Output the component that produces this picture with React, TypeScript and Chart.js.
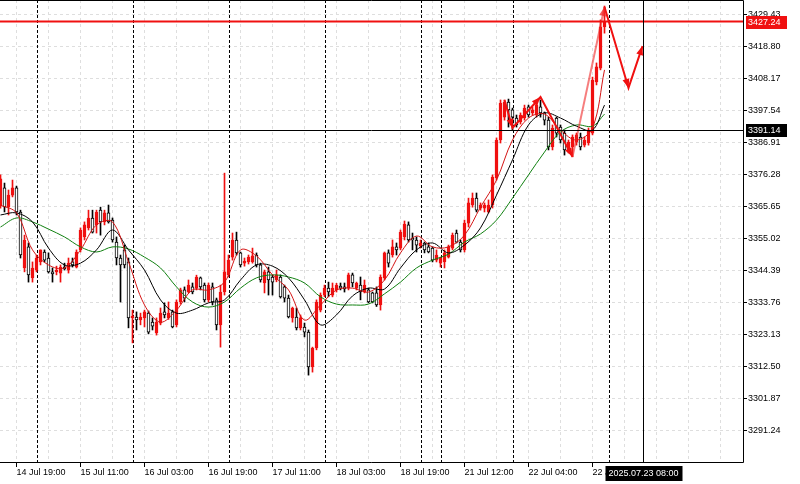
import React, { useEffect, useRef } from "react";
import { Chart, registerables } from "chart.js";

Chart.register(...registerables);

// ---- Candles (H1), bar index 0 = 14 Jul 15:00 ----
const opens = [
  3366.0, 3372.0, 3365.7, 3369.6, 3372.0, 3364.0, 3345.4, 3352.4, 3342.1, 3344.7,
  3347.4, 3350.7, 3348.7, 3344.1, 3344.1, 3343.7, 3345.7, 3344.7, 3347.4, 3345.7,
  3351.4, 3355.7, 3358.7, 3362.0, 3359.7, 3364.6, 3360.7, 3363.7, 3361.3, 3354.0,
  3348.7, 3351.4, 3347.4, 3328.8, 3329.1, 3328.1, 3328.8, 3330.4, 3327.4, 3323.8,
  3327.1, 3330.8, 3328.8, 3330.8, 3326.5, 3334.1, 3338.1, 3337.4, 3339.1, 3338.7,
  3342.1, 3339.7, 3334.8, 3339.1, 3334.8, 3326.5, 3337.4, 3343.1, 3349.0, 3354.7,
  3350.4, 3347.0, 3347.4, 3347.4, 3349.7, 3346.4, 3340.4, 3344.1, 3342.4, 3341.4,
  3342.4, 3339.1, 3335.4, 3328.8, 3329.1, 3325.5, 3325.8, 3324.1, 3312.5, 3318.8,
  3331.4, 3336.4, 3338.7, 3336.4, 3338.1, 3339.4, 3339.1, 3338.7, 3343.1, 3338.7,
  3339.7, 3337.4, 3338.1, 3337.1, 3337.1, 3333.1, 3342.1, 3350.4, 3349.7, 3352.4,
  3352.0, 3355.7, 3359.7, 3355.3, 3354.7, 3352.7, 3353.7, 3352.4, 3352.0, 3348.0,
  3347.0, 3347.4, 3349.0, 3352.0, 3357.0, 3354.0, 3351.4, 3360.3, 3366.3, 3368.6,
  3365.3, 3365.3, 3364.0, 3366.3, 3375.3, 3387.9, 3395.5, 3400.5, 3397.9, 3395.2,
  3393.9, 3395.2, 3398.9, 3396.9, 3396.2, 3398.9, 3396.9, 3394.5, 3385.6, 3395.2,
  3392.2, 3390.2, 3384.6, 3385.6, 3387.2, 3388.9, 3386.2, 3386.9, 3390.2, 3407.2,
  3411.8, 3425.5,
];
const highs = [
  3376.3, 3373.6, 3371.3, 3374.6, 3372.6, 3364.6, 3356.3, 3353.7, 3347.4, 3349.7,
  3351.4, 3351.4, 3350.4, 3345.4, 3346.0, 3346.4, 3347.0, 3348.7, 3348.7, 3351.4,
  3358.7, 3360.7, 3364.6, 3364.6, 3364.6, 3365.6, 3364.6, 3366.3, 3362.0, 3355.7,
  3349.7, 3353.0, 3348.7, 3331.4, 3330.8, 3330.4, 3331.4, 3331.1, 3328.8, 3328.8,
  3332.1, 3333.8, 3334.1, 3331.4, 3334.8, 3338.7, 3339.1, 3341.4, 3340.4, 3343.0,
  3342.4, 3340.4, 3340.4, 3340.4, 3335.4, 3339.7, 3376.9, 3349.7, 3357.0, 3357.3,
  3350.7, 3348.7, 3349.7, 3352.0, 3350.4, 3347.0, 3344.7, 3345.7, 3343.1, 3344.7,
  3343.1, 3339.7, 3336.4, 3332.4, 3332.1, 3329.8, 3327.1, 3324.8, 3319.1, 3334.8,
  3337.1, 3339.7, 3340.7, 3340.4, 3340.3, 3340.4, 3340.4, 3343.7, 3343.7, 3340.7,
  3342.4, 3341.4, 3338.7, 3337.4, 3339.1, 3343.1, 3350.7, 3351.4, 3354.7, 3353.7,
  3358.0, 3361.0, 3360.7, 3357.0, 3355.7, 3354.7, 3354.0, 3353.7, 3352.4, 3351.4,
  3349.0, 3351.4, 3353.0, 3357.0, 3358.0, 3354.7, 3361.3, 3368.6, 3370.3, 3370.3,
  3367.0, 3367.0, 3368.0, 3376.3, 3388.6, 3401.2, 3401.2, 3401.5, 3398.5, 3396.2,
  3396.9, 3399.5, 3399.5, 3398.9, 3400.2, 3401.2, 3397.2, 3395.5, 3392.9, 3395.5,
  3392.9, 3391.2, 3387.9, 3389.6, 3390.2, 3390.2, 3388.9, 3391.9, 3408.8, 3413.5,
  3427.8, 3432.4,
];
const lows = [
  3365.3, 3364.0, 3363.0, 3369.0, 3363.0, 3348.7, 3344.1, 3340.7, 3340.7, 3344.1,
  3346.4, 3347.4, 3343.7, 3340.7, 3343.1, 3340.7, 3344.7, 3343.7, 3345.7, 3345.4,
  3350.7, 3354.7, 3358.0, 3357.0, 3357.0, 3356.3, 3359.7, 3360.3, 3354.0, 3346.4,
  3334.1, 3345.4, 3325.5, 3320.5, 3324.8, 3326.5, 3325.8, 3323.5, 3324.8, 3323.1,
  3326.5, 3328.8, 3328.3, 3325.5, 3325.8, 3333.4, 3334.1, 3337.1, 3336.8, 3338.1,
  3338.1, 3334.1, 3334.1, 3333.1, 3324.8, 3319.1, 3336.4, 3342.4, 3348.0, 3349.7,
  3345.7, 3346.0, 3346.7, 3347.0, 3345.7, 3340.7, 3337.1, 3336.4, 3336.4, 3340.8,
  3335.4, 3334.1, 3328.8, 3327.4, 3324.8, 3324.8, 3322.5, 3309.8, 3310.8, 3318.2,
  3330.8, 3335.8, 3335.8, 3335.8, 3337.4, 3338.1, 3337.4, 3338.1, 3339.1, 3338.1,
  3334.8, 3337.1, 3333.8, 3333.8, 3332.6, 3331.4, 3341.4, 3345.7, 3349.0, 3349.7,
  3351.4, 3354.7, 3354.0, 3351.4, 3350.7, 3352.0, 3350.4, 3350.4, 3347.4, 3347.4,
  3345.7, 3345.4, 3348.7, 3351.4, 3353.7, 3350.7, 3350.7, 3359.0, 3365.6, 3364.0,
  3364.6, 3364.0, 3363.7, 3365.3, 3374.6, 3386.9, 3394.5, 3392.2, 3391.2, 3392.2,
  3393.2, 3394.5, 3395.5, 3396.2, 3395.5, 3395.5, 3392.9, 3384.6, 3384.6, 3388.9,
  3386.9, 3382.9, 3383.6, 3382.3, 3386.2, 3384.6, 3385.6, 3386.2, 3389.6, 3406.2,
  3411.2, 3423.4,
];
const closes = [
  3375.0, 3365.7, 3369.6, 3372.0, 3364.0, 3349.7, 3354.7, 3343.1, 3345.4, 3348.7,
  3351.4, 3348.0, 3344.1, 3343.4, 3344.7, 3345.7, 3345.1, 3347.0, 3346.4, 3350.7,
  3358.0, 3359.7, 3362.0, 3357.3, 3364.0, 3360.7, 3363.7, 3360.7, 3354.7, 3348.7,
  3346.4, 3346.4, 3328.8, 3329.4, 3328.1, 3329.1, 3330.8, 3324.1, 3326.1, 3327.4,
  3330.4, 3329.8, 3330.4, 3325.8, 3334.1, 3338.1, 3335.4, 3339.7, 3337.4, 3342.4,
  3339.1, 3334.8, 3339.7, 3334.1, 3326.5, 3337.4, 3344.1, 3348.0, 3354.7, 3350.4,
  3346.4, 3347.7, 3349.0, 3349.4, 3346.4, 3341.4, 3344.1, 3341.4, 3340.7, 3343.1,
  3335.8, 3335.4, 3329.1, 3332.1, 3325.5, 3328.8, 3324.1, 3312.5, 3318.8, 3334.1,
  3336.4, 3338.7, 3337.4, 3338.7, 3339.7, 3338.7, 3338.4, 3343.1, 3340.4, 3340.4,
  3337.4, 3339.7, 3334.1, 3334.1, 3333.1, 3342.4, 3350.4, 3347.0, 3352.4, 3351.4,
  3357.3, 3360.0, 3354.7, 3354.7, 3353.0, 3353.7, 3351.4, 3350.7, 3348.0, 3349.7,
  3348.7, 3350.4, 3352.4, 3356.3, 3354.0, 3351.4, 3360.3, 3367.0, 3368.6, 3364.6,
  3366.3, 3366.3, 3366.3, 3375.6, 3387.9, 3400.2, 3400.5, 3397.9, 3395.5, 3392.9,
  3396.2, 3398.5, 3396.2, 3397.9, 3399.5, 3396.9, 3394.5, 3385.6, 3391.9, 3390.2,
  3387.9, 3384.6, 3387.2, 3388.9, 3389.6, 3385.6, 3387.9, 3391.2, 3407.8, 3412.2,
  3425.5, 3427.24,
];

// ---- Moving averages, read at every 4th bar ----
const maIdx = [
  0, 4, 8, 12, 16, 20, 24, 28, 32, 36, 40, 44, 48, 52, 56, 60, 64, 68, 72, 76,
  80, 84, 88, 92, 96, 100, 104, 108, 112, 116, 120, 124, 128, 132, 136, 140, 144, 148, 151,
];
const maFast = [
  3366.3, 3363.7, 3351.4, 3346.4, 3345.4, 3351.4, 3359.7, 3360.7, 3347.4, 3333.1,
  3327.4, 3331.4, 3338.1, 3338.1, 3340.7, 3351.4, 3349.4, 3343.1, 3338.1, 3328.1,
  3333.1, 3338.1, 3338.7, 3337.4, 3341.4, 3350.4, 3356.0, 3352.4, 3352.4, 3356.3,
  3365.6, 3374.6, 3387.9, 3395.2, 3396.5, 3391.2, 3387.9, 3391.9, 3411.2,
];
const maMid = [
  3363.0, 3363.7, 3360.7, 3352.0, 3346.4, 3347.0, 3351.4, 3358.0, 3351.4, 3344.7,
  3334.8, 3330.4, 3331.4, 3333.8, 3334.8, 3341.4, 3346.4, 3346.0, 3342.1, 3334.8,
  3326.5, 3329.8, 3336.1, 3338.7, 3338.4, 3345.4, 3351.4, 3353.7, 3350.4, 3353.0,
  3358.7, 3369.6, 3381.3, 3392.9, 3396.9, 3395.2, 3392.5, 3391.2, 3399.5,
];
const maSlow = [
  3359.0, 3362.0, 3360.7, 3358.3, 3355.7, 3352.4, 3350.7, 3352.4, 3351.7, 3349.0,
  3345.4, 3339.1, 3334.1, 3332.4, 3334.1, 3338.7, 3342.1, 3343.1, 3342.4, 3340.4,
  3335.8, 3333.4, 3333.1, 3333.4, 3336.8, 3340.7, 3345.4, 3348.0, 3350.0, 3354.0,
  3356.7, 3361.3, 3368.6, 3376.3, 3383.9, 3390.6, 3392.9, 3392.5, 3396.5,
];

// ---- ZigZag with projection ----
const zzIdx = [126, 128, 135, 143, 151, 157, 160.5];
const zzPrice = [3401.2, 3391.9, 3402.2, 3382.3, 3432.1, 3405.2, 3419.1];

// ---- Axes ----
const yTicks = [
  3291.24, 3301.87, 3312.5, 3323.13, 3333.76, 3344.39, 3355.02,
  3365.65, 3376.28, 3386.91, 3397.54, 3408.17, 3418.8, 3429.43,
];
const xTickIdx = [4, 20, 36, 52, 68, 84, 100, 116, 132, 148];
const xTickLabels = [
  "14 Jul 19:00", "15 Jul 11:00", "16 Jul 03:00", "16 Jul 19:00", "17 Jul 11:00",
  "18 Jul 03:00", "18 Jul 19:00", "21 Jul 12:00", "22 Jul 04:00", "22 Jul 20:00",
];
const separatorIdx = [9, 33, 57, 81, 105, 110, 128, 152];
const bidPrice = 3427.24;
const crossPrice = 3391.14;
const crossIdx = 160.5;
const crossTime = "2025.07.23 08:00";

const FONT = "Liberation Sans";
const RED = "#f01010";

export default function App() {
  const ref = useRef<HTMLCanvasElement>(null);

  useEffect(() => {
    const bull = closes.map((c, i) => c >= opens[i]);
    const wickData = opens.map((_, i) => ({ x: i, y: [lows[i], highs[i]] }));
    const bodyData = opens.map((o, i) => ({ x: i, y: [Math.min(o, closes[i]), Math.max(o, closes[i])] }));
    const mk = (arr: number[]) => maIdx.map((x, k) => ({ x, y: arr[k] }));
    const zz = zzIdx.map((x, k) => ({ x, y: zzPrice[k] }));

    const overlay = {
      id: "overlay",
      beforeDatasetsDraw(chart: any) {
        const { ctx, chartArea: a, scales } = chart;
        const x = scales.x;
        ctx.save();
        ctx.strokeStyle = "#000";
        ctx.lineWidth = 1;
        ctx.setLineDash([3, 2]);
        separatorIdx.forEach((i) => {
          const px = Math.round(x.getPixelForValue(i)) + 0.5;
          ctx.beginPath();
          ctx.moveTo(px, a.top);
          ctx.lineTo(px, a.bottom);
          ctx.stroke();
        });
        ctx.restore();
      },
      afterDatasetsDraw(chart: any) {
        const { ctx, chartArea: a, scales } = chart;
        const x = scales.x;
        const y = scales.y;
        ctx.save();
        // zigzag arrowheads
        const meta = chart.getDatasetMeta(5);
        const pts = meta.data;
        for (let k = 1; k < pts.length; k++) {
          const p0 = pts[k - 1];
          const p1 = pts[k];
          const dx = p1.x - p0.x;
          const dy = p1.y - p0.y;
          const len = Math.hypot(dx, dy) || 1;
          const ux = dx / len;
          const uy = dy / len;
          const L = 9;
          const W = 3.5;
          ctx.fillStyle = k === 4 ? "rgba(240,40,40,0.75)" : RED;
          ctx.beginPath();
          ctx.moveTo(p1.x, p1.y);
          ctx.lineTo(p1.x - ux * L - uy * W, p1.y - uy * L + ux * W);
          ctx.lineTo(p1.x - ux * L + uy * W, p1.y - uy * L - ux * W);
          ctx.closePath();
          ctx.fill();
        }
        // bid line
        const by = y.getPixelForValue(bidPrice);
        ctx.strokeStyle = RED;
        ctx.lineWidth = 2;
        ctx.beginPath();
        ctx.moveTo(a.left, by);
        ctx.lineTo(a.right, by);
        ctx.stroke();
        // crosshair
        const cy = Math.round(y.getPixelForValue(crossPrice)) + 0.5;
        const cx = Math.round(x.getPixelForValue(crossIdx)) + 0.5;
        ctx.strokeStyle = "#000";
        ctx.lineWidth = 1;
        ctx.beginPath();
        ctx.moveTo(a.left, cy);
        ctx.lineTo(a.right, cy);
        ctx.moveTo(cx, a.top);
        ctx.lineTo(cx, a.bottom);
        ctx.stroke();
        // frame
        ctx.beginPath();
        ctx.moveTo(a.left, a.top + 0.5);
        ctx.lineTo(a.right + 0.5, a.top + 0.5);
        ctx.lineTo(a.right + 0.5, a.bottom - 0.5);
        ctx.lineTo(a.left, a.bottom - 0.5);
        ctx.stroke();
        // labels
        ctx.font = `9px "${FONT}"`;
        ctx.textBaseline = "middle";
        ctx.textAlign = "left";
        ctx.fillStyle = RED;
        ctx.fillRect(a.right + 3, Math.round(by) - 6, 41, 13);
        ctx.fillStyle = "#fff";
        ctx.fillText(bidPrice.toFixed(2), a.right + 5, Math.round(by) + 0.5);
        ctx.fillStyle = "#000";
        ctx.fillRect(a.right + 3, Math.round(cy) - 7, 41, 13);
        ctx.fillStyle = "#fff";
        ctx.fillText(crossPrice.toFixed(2), a.right + 5, Math.round(cy) - 0.5);
        ctx.fillStyle = "#000";
        ctx.fillRect(cx - 38, a.bottom + 3, 77, 15);
        ctx.fillStyle = "#fff";
        ctx.textAlign = "center";
        ctx.fillText(crossTime, cx, a.bottom + 10.5);
        ctx.restore();
      },
    };

    const chart = new Chart(ref.current as HTMLCanvasElement, {
      type: "bar",
      data: {
        datasets: [
          {
            type: "bar",
            data: wickData as any,
            backgroundColor: bull.map((b) => (b ? RED : "#000")),
            barThickness: 1,
            grouped: false,
            order: 20,
          } as any,
          {
            type: "bar",
            data: bodyData as any,
            backgroundColor: bull.map((b) => (b ? RED : "#fff")),
            borderColor: bull.map((b) => (b ? RED : "#000")),
            borderWidth: 1,
            borderSkipped: false,
            barThickness: 3,
            grouped: false,
            order: 19,
          } as any,
          {
            type: "line",
            data: mk(maSlow) as any,
            borderColor: "#108010",
            borderWidth: 1,
            pointRadius: 0,
            tension: 0.35,
            order: 8,
          } as any,
          {
            type: "line",
            data: mk(maMid) as any,
            borderColor: "#000",
            borderWidth: 1,
            pointRadius: 0,
            tension: 0.35,
            order: 7,
          } as any,
          {
            type: "line",
            data: mk(maFast) as any,
            borderColor: "#d41414",
            borderWidth: 1,
            pointRadius: 0,
            tension: 0.35,
            order: 6,
          } as any,
          {
            type: "line",
            data: zz as any,
            borderColor: RED,
            borderWidth: 2,
            pointRadius: 0,
            tension: 0,
            segment: {
              borderColor: (c: any) => (c.p0DataIndex === 3 ? "rgba(240,40,40,0.6)" : RED),
            },
            order: 1,
          } as any,
        ],
      },
      options: {
        responsive: false,
        devicePixelRatio: 1,
        animation: false,
        events: [],
        layout: { padding: 0 },
        plugins: { legend: { display: false }, tooltip: { enabled: false } },
        scales: {
          x: {
            type: "linear",
            min: -0.125,
            max: 185.625,
            offset: false,
            grid: {
              offset: false,
              color: "#dedede",
              lineWidth: 1,
              tickLength: 4,
              tickColor: (c: any) =>
                c.tick && xTickIdx.includes(c.tick.value) ? "#000" : "rgba(0,0,0,0)",
            },
            border: { display: false, dash: [3, 3] },
            afterBuildTicks: (scale: any) => {
              const t: any[] = [];
              for (let v = 4; v <= scale.max; v += 8) t.push({ value: v });
              scale.ticks = t;
            },
            afterFit: (scale: any) => {
              scale.height = 21;
              scale.paddingLeft = 0;
              scale.paddingRight = 0;
              scale.paddingTop = 0;
              scale.paddingBottom = 0;
            },
            ticks: {
              autoSkip: false,
              maxRotation: 0,
              minRotation: 0,
              align: "start",
              padding: 0,
              color: "#000",
              font: { family: FONT, size: 9 },
              callback: (v: any) => {
                const k = xTickIdx.indexOf(Number(v));
                return k >= 0 ? xTickLabels[k] : "";
              },
            },
          } as any,
          y: {
            type: "linear",
            position: "right",
            min: 3280.61,
            max: 3434.41,
            grid: {
              color: "#dedede",
              lineWidth: 1,
              tickLength: 4,
              tickColor: "#000",
            },
            border: { display: false, dash: [3, 3] },
            afterBuildTicks: (scale: any) => {
              scale.ticks = yTicks.map((v) => ({ value: v }));
            },
            afterFit: (scale: any) => {
              scale.width = 57;
              scale.paddingLeft = 0;
              scale.paddingRight = 0;
              scale.paddingTop = 0;
              scale.paddingBottom = 0;
            },
            ticks: {
              padding: 1,
              color: "#000",
              font: { family: FONT, size: 9 },
              callback: (v: any) => Number(v).toFixed(2),
            },
          } as any,
        },
      },
      plugins: [overlay],
    } as any);
    return () => chart.destroy();
  }, []);

  return (
    <div style={{ position: "fixed", left: 0, top: 0, width: 800, height: 484, background: "#fff" }}>
      <canvas ref={ref} width={800} height={484} style={{ display: "block" }} />
    </div>
  );
}
